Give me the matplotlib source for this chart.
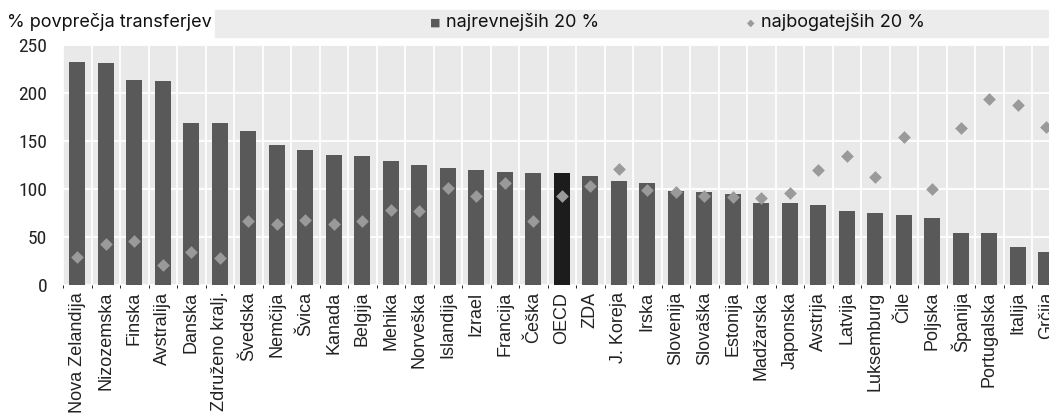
import matplotlib

matplotlib.use("Agg")
import matplotlib.pyplot as plt
from matplotlib import font_manager
from matplotlib.patches import Rectangle
import numpy as np

COUNTRIES = [
    "Nova Zelandija", "Nizozemska", "Finska", "Avstralija", "Danska",
    "Združeno kralj.", "Švedska", "Nemčija", "Švica", "Kanada", "Belgija",
    "Mehika", "Norveška", "Islandija", "Izrael", "Francija", "Češka", "OECD",
    "ZDA", "J. Koreja", "Irska", "Slovenija", "Slovaška", "Estonija",
    "Madžarska", "Japonska", "Avstrija", "Latvija", "Luksemburg", "Čile",
    "Poljska", "Španija", "Portugalska", "Italija", "Grčija",
]
POOREST = [
    232, 231, 214, 213, 169, 169, 160, 146, 141, 135, 134,
    129, 125, 122, 120, 118, 117, 117,
    114, 108, 106, 98, 97, 95, 85, 85, 83, 77, 75, 73,
    70, 54, 54, 40, 34,
]
RICHEST = [
    29, 43, 46, 21, 34, 28, 67, 64, 68, 64, 67,
    78, 77, 101, 93, 106, 67, 93,
    103, 121, 99, 97, 93, 92, 91, 96, 120, 134, 113, 154,
    100, 164, 194, 188, 165,
]
HIGHLIGHT = "OECD"

BAR_C = "#595959"
HI_C = "#1c1c1c"
DIA_C = "#9a9a9a"
BG_C = "#e9e9e9"


def narrow_family():
    # y tick labels in the reference use a condensed face; take one if any
    names = sorted({f.name for f in font_manager.fontManager.ttflist})
    for key in ("Liberation Sans Narrow", "Roboto Condensed", "Noto Sans Condensed",
                "Open Sans Condensed", "DejaVu Sans Condensed"):
        if key in names:
            return key
    for nm in names:
        if "Narrow" in nm or "Condensed" in nm:
            return nm
    return "Liberation Sans"


W, H = 1049, 416
fig = plt.figure(figsize=(W / 100, H / 100), dpi=100)

# axes run past the right edge, so the last country is cut off
n = len(COUNTRIES)
cell = 28.5
ax = fig.add_axes([63 / W, (H - 285) / H, n * cell / W, 240 / H])
ax.set_facecolor(BG_C)

x = np.arange(n)
colors = [HI_C if c == HIGHLIGHT else BAR_C for c in COUNTRIES]
ax.bar(x, POOREST, width=0.56, color=colors, zorder=3)
ax.scatter(x, RICHEST, marker="D", s=42, color=DIA_C, linewidths=0, zorder=4)

ax.set_xlim(-0.5, n - 0.5)
ax.set_ylim(0, 250)
ax.set_yticks(range(0, 251, 50))
ax.set_xticks(np.arange(-0.5, n, 1.0), minor=True)
ax.set_xticks(x)
ax.set_xticklabels(COUNTRIES, rotation=90, fontsize=13,
                   family=["Liberation Sans", "DejaVu Sans"])
yfam = narrow_family()
for lab in ax.get_yticklabels():
    lab.set_family([yfam, "Liberation Sans"])
    lab.set_fontsize(14)
    lab.set_color("#222222")
ax.tick_params(axis="both", length=0)
ax.tick_params(axis="y", pad=11.5)
ax.tick_params(axis="x", pad=5, colors="#222222")
ax.grid(True, axis="y", color="white", linewidth=1.3, zorder=0)
ax.grid(True, axis="x", which="minor", color="white", linewidth=1.3, zorder=0)
for s in ax.spines.values():
    s.set_visible(False)

# title and legend band on top
fig.text(7 / W, (H - 22) / H, "% povprečja transferjev", fontsize=13,
         family="Inter", va="center", ha="left", color="#111111")
fig.patches.append(Rectangle((215 / W, (H - 37) / H), 1 - 215 / W, 27 / H,
                             transform=fig.transFigure, color="#ececec",
                             zorder=0))
fig.text(430 / W, (H - 23) / H, "■", fontsize=8, color=BAR_C,
         va="center", ha="left")
fig.text(446 / W, (H - 22) / H, "najrevnejših 20 %", fontsize=13,
         family="Inter", va="center", ha="left", color="#111111")
fig.text(747 / W, (H - 23) / H, "◆", fontsize=7, color=DIA_C,
         va="center", ha="left")
fig.text(761 / W, (H - 22) / H, "najbogatejših 20 %", fontsize=13,
         family="Inter", va="center", ha="left", color="#111111")

fig.savefig("out.png", dpi=100)
